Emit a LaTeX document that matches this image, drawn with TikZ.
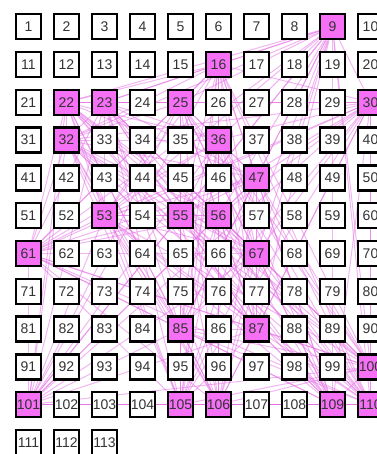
\documentclass[tikz,border=0pt]{standalone}
\usepackage{fontspec}
\setsansfont{Liberation Sans}
\usepackage{tikz}
\usetikzlibrary{backgrounds}

\definecolor{hotpink}{RGB}{246,112,246}
\definecolor{linkpink}{RGB}{228,110,228}

\begin{document}
\begin{tikzpicture}[
  x=1pt, y=1pt,
  box/.style={draw, line width=2.4pt, fill=white, minimum size=25pt, inner sep=0pt,
              text=black!80, font=\sffamily\fontsize{14}{14}\selectfont},
  hot/.style={fill=hotpink},
  link/.style={draw=linkpink, line width=1pt, opacity=0.5},
  % highlighted cells
  h9/.style=hot, h16/.style=hot, h22/.style=hot, h23/.style=hot, h25/.style=hot,
  h30/.style=hot, h32/.style=hot, h36/.style=hot, h47/.style=hot, h53/.style=hot,
  h55/.style=hot, h56/.style=hot, h61/.style=hot, h67/.style=hot, h85/.style=hot,
  h87/.style=hot, h100/.style=hot, h101/.style=hot, h105/.style=hot, h106/.style=hot,
  h109/.style=hot, h110/.style=hot,
]
\useasboundingbox (0,0) rectangle (376,-454);
% ---- the grid of cells ----
\foreach \i in {1,...,113}
  \node[box, h\i/.try] (n\i) at ({28.5+38*mod(\i-1,10)}, {-26.7-37.8*int((\i-1)/10)}) {\i};
% ---- links between highlighted cells ----
\def\hotlist{9,16,22,23,25,30,32,36,47,53,55,56,61,67,85,87,100,101,105,106,109,110}
\begin{pgfonlayer}{background}
  \foreach \a in \hotlist
    \foreach \b in \hotlist
      {\ifnum\a<\b \draw[link] (n\a) -- (n\b);\fi}
\end{pgfonlayer}
\end{tikzpicture}
\end{document}
